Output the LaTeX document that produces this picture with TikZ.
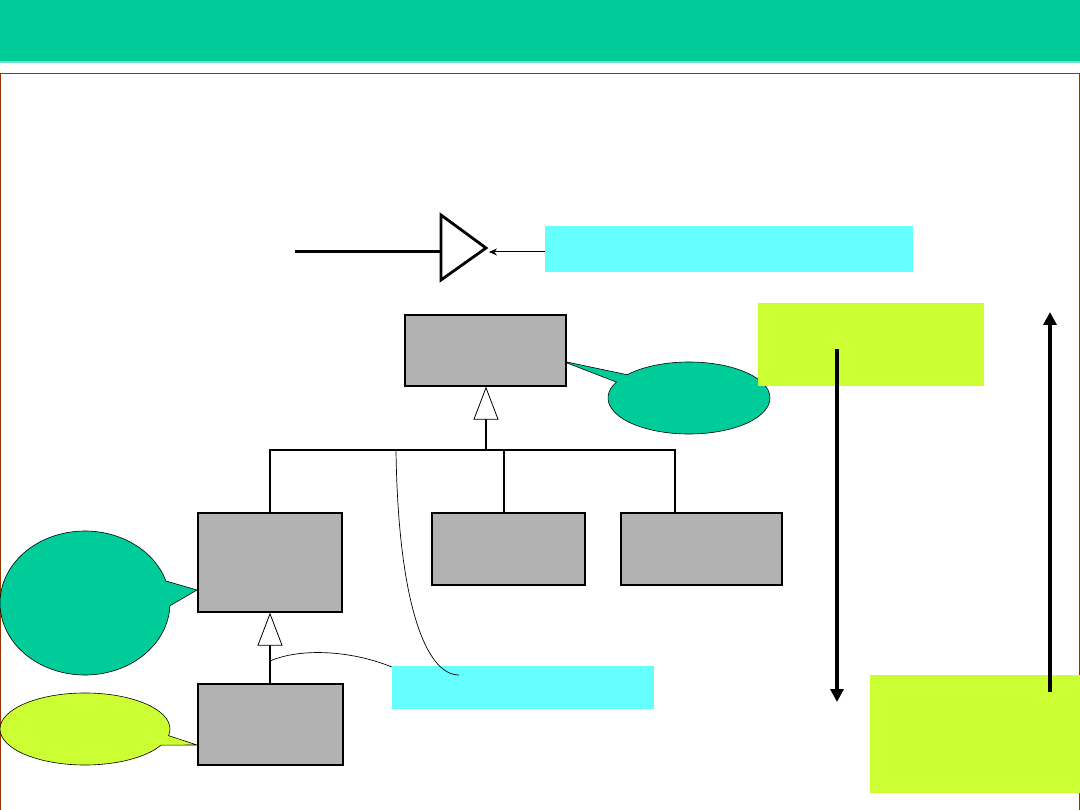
\documentclass[tikz,border=0pt]{standalone}
\usepackage{tikz}
\usetikzlibrary{positioning,calc,arrows.meta,shapes.callouts}
\definecolor{headgreen}{HTML}{00CC99}
\definecolor{headline}{HTML}{66E6C6}
\definecolor{framebrown}{HTML}{993300}
\definecolor{classgray}{HTML}{B2B2B2}
\definecolor{notecyan}{HTML}{66FFFF}
\definecolor{noteyellow}{HTML}{CCFF33}

\begin{document}
\begin{tikzpicture}[x=1pt,y=-1pt,
  class/.style={draw,fill=classgray,line width=1.3pt,inner sep=0pt},
  note/.style={fill=notecyan,inner sep=0pt},
  remark/.style={fill=noteyellow,inner sep=0pt},
  bubble/.style={ellipse callout,draw,line width=0.6pt,inner sep=0pt},
  inherit/.style={line width=1.8pt,-{Triangle[open,fill=white,length=33pt,width=25pt,line width=0.8pt]}},
  flow/.style={line width=4pt,-{Triangle[length=13pt,width=13pt]}}]
  \useasboundingbox (0,0) rectangle (1080,810);
  % header and frame
  \fill[headgreen] (0,0) rectangle (1080,61);
  \fill[headline] (0,61) rectangle (1080,63);
  \draw[framebrown,line width=1.3pt] (0.7,73.5) -- (1079.3,73.5) -- (1079.3,812) (0.7,73.5) -- (0.7,812);

  % notes
  \node[note,minimum width=368pt,minimum height=46pt] (note1) at (729,249) {};
  \node[note,minimum width=262pt,minimum height=43pt] (note2) at (523,687.5) {};

  % generalisation symbol
  \coordinate (gStart) at (295,252);
  \coordinate (gBack) at (441,252);
  \coordinate (gTip) at (489,252);
  \draw[line width=3pt] (gStart) -- (gBack);
  \draw[line width=2.8pt,line join=miter,fill=white] (441,215) -- (486,248) -- (441,280) -- cycle;
  \draw[line width=1pt,-{Stealth[length=8pt,width=7pt]}] (note1.west |- gTip) -- (gTip);

  % callouts
  \coordinate (tipTop) at (562,361);
  \coordinate (tipA) at (197,590);
  \coordinate (tipD) at (197,745);
  \node[bubble,fill=headgreen,minimum width=162pt,minimum height=72pt,callout pointer arc=14,
    callout absolute pointer={(tipTop)}] (bTop) at (689,398) {};
  \node[bubble,fill=headgreen,minimum width=170pt,minimum height=144pt,callout pointer arc=20,
    callout absolute pointer={(tipA)}] (bLeft) at (85,603) {};
  \node[bubble,fill=noteyellow,minimum width=170pt,minimum height=72pt,callout pointer arc=16,
    callout absolute pointer={(tipD)}] (bLow) at (85,729) {};

  % classes
  \node[class,minimum width=161pt,minimum height=71pt] (base) at (485.5,350.5) {};
  \node[class,minimum width=144pt,minimum height=99pt] (subA) at (270,562.5) {};
  \node[class,minimum width=153pt,minimum height=72pt] (subB) at (508.5,549) {};
  \node[class,minimum width=161pt,minimum height=72pt] (subC) at (701.5,549) {};
  \node[class,minimum width=145pt,minimum height=81pt] (subD) at (270.5,724.5) {};

  % hierarchy
  \coordinate (busL) at (270,450);
  \coordinate (busM) at (486,450);
  \coordinate (busB) at (504,450);
  \coordinate (busR) at (675,450);
  \coordinate (busK) at (396,450);
  \draw[inherit] (busM) -- (busM |- base.south);
  \draw[line width=1.8pt] (subA.north) -- (busL) -- (busR) -- (busR |- subC.north);
  \draw[line width=1.8pt] (busB) -- (busB |- subB.north);
  \draw[inherit] (subD.north -| subA.south) -- (subA.south);

  % leader lines
  \coordinate (kEnd) at (459,675);
  \coordinate (stemA) at (270,661);
  \draw[line width=0.7pt] (busK) .. controls (398,600) and (425,675) .. (kEnd);
  \draw[line width=0.7pt] (stemA) .. controls (300,648) and (350,650) .. (note2.west |- 0,667);

  % yellow remarks and flow arrows
  \node[remark,minimum width=226pt,minimum height=83pt] (yTop) at (871,344.5) {};
  \node[remark,minimum width=210pt,minimum height=118pt] (yBot) at (975,734) {};
  \coordinate (downStart) at (837,349);
  \coordinate (downEnd) at (837,702);
  \coordinate (upStart) at (1050,692);
  \coordinate (upEnd) at (1050,312);
  \draw[flow] (downStart) -- (downEnd);
  \draw[flow] (upStart) -- (upEnd);
\end{tikzpicture}
\end{document}
